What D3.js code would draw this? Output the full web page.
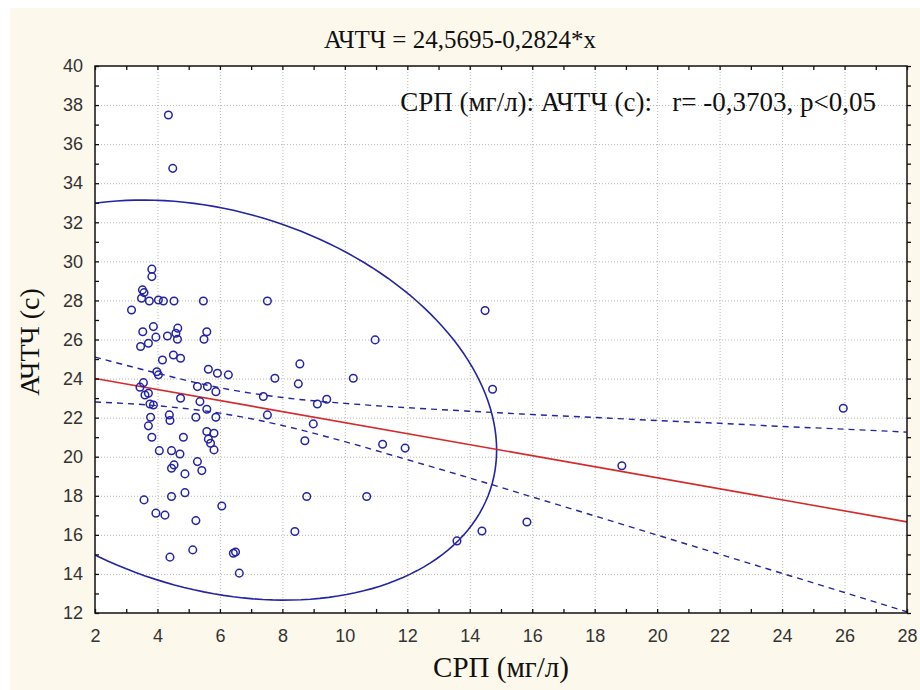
<!DOCTYPE html>
<html>
<head>
<meta charset="utf-8">
<script src="https://cdn.jsdelivr.net/npm/d3@7/dist/d3.min.js"></script>
<style>
  html, body { margin: 0; padding: 0; background: #ffffff; }
  svg { display: block; }
  text { white-space: pre; }
</style>
</head>
<body>
<svg id="chart" width="920" height="690"></svg>
<script>
// СРП (мг/л) per patient
const crpValues = [
  4.35, 4.49, 3.82, 3.82, 3.52, 3.57, 3.49, 3.74, 4.03, 4.19, 4.53, 5.47, 3.17, 3.87, 3.53, 4.65, 5.58, 4.59, 3.95, 4.32,
  3.71, 4.64, 5.49, 3.46, 4.16, 4.51, 4.74, 3.98, 4.03, 5.63, 5.92, 6.27, 3.55, 3.44, 3.60, 3.71, 5.28, 5.60, 5.87, 4.74,
  3.76, 3.87, 5.36, 5.58, 3.78, 4.38, 4.40, 5.23, 5.87, 3.71, 3.82, 4.83, 5.58, 5.81, 5.63, 5.70, 5.81, 4.06, 4.45, 4.72,
  5.28, 5.42, 4.53, 4.45, 4.88, 4.88, 4.45, 3.57, 6.06, 3.95, 4.24, 5.23, 5.13, 4.40, 6.43, 6.50, 6.62, 7.52, 10.97, 8.56,
  7.76, 8.51, 10.27, 7.39, 9.12, 9.42, 7.52, 8.99, 8.72, 8.78, 10.70, 8.40, 14.49, 14.73, 11.21, 11.93, 13.59, 14.39, 15.83, 18.87,
  25.96
];
// АЧТЧ (с) per patient, same order
const aptValues = [
  37.49, 34.76, 29.60, 29.22, 28.54, 28.40, 28.11, 27.97, 28.02, 27.97, 27.97, 27.97, 27.51, 26.66, 26.40, 26.58, 26.40, 26.32, 26.12, 26.18,
  25.81, 26.01, 26.01, 25.64, 24.95, 25.21, 25.04, 24.35, 24.19, 24.48, 24.27, 24.19, 23.79, 23.56, 23.16, 23.25, 23.59, 23.59, 23.33, 22.99,
  22.70, 22.65, 22.82, 22.43, 22.02, 22.14, 21.85, 22.02, 22.02, 21.58, 21.00, 21.00, 21.29, 21.20, 20.90, 20.69, 20.35, 20.31, 20.31, 20.14,
  19.75, 19.29, 19.58, 19.41, 19.12, 18.16, 17.96, 17.79, 17.48, 17.11, 17.01, 16.73, 15.23, 14.86, 15.06, 15.12, 14.04, 27.97, 25.98, 24.75,
  24.02, 23.73, 24.02, 23.08, 22.70, 22.94, 22.14, 21.68, 20.82, 17.96, 17.96, 16.17, 27.48, 23.45, 20.64, 20.44, 15.69, 16.20, 16.66, 19.54,
  22.48
];

// Regression line АЧТЧ = 24,5695 - 0,2824*x
const intercept = 24.5695;
const slope = -0.2824;

// 95% confidence band of the regression
const bandX     = [2, 4, 6, 8, 10, 12, 14, 16, 18, 20, 22, 24, 26, 28];
const bandUpper = [25.10, 24.27, 23.53, 23.03, 22.73, 22.51, 22.33, 22.16, 22.01, 21.85, 21.71, 21.55, 21.41, 21.26];
const bandLower = [22.80, 22.61, 22.23, 21.60, 20.77, 19.85, 18.91, 17.94, 16.97, 15.99, 15.01, 14.03, 13.05, 12.06];

// 95% data ellipse: centre, half-extents along each axis, correlation
const ellipseCentre = [5.8, 22.9];
const ellipseHalf = [9.06, 10.24];
const ellipseRho = -0.25;

const xTicks = [2, 4, 6, 8, 10, 12, 14, 16, 18, 20, 22, 24, 26, 28];
const yTicks = [12, 14, 16, 18, 20, 22, 24, 26, 28, 30, 32, 34, 36, 38, 40];

const titleText = "АЧТЧ = 24,5695-0,2824*x";
const statText = "СРП (мг/л): АЧТЧ (с):   r= -0,3703, p<0,05";
const xTitle = "СРП (мг/л)";
const yTitle = "АЧТЧ (с)";

const W = 920, H = 690;
const plot = { left: 95, right: 907, top: 66, bottom: 613 };
const blue = "#2424a4";
const red = "#d62a2a";

const svg = d3.select("#chart");

svg.append("rect").attr("x", 0).attr("y", 0).attr("width", W).attr("height", H).attr("fill", "#ffffff");
svg.append("rect").attr("x", 10).attr("y", 8).attr("width", W - 10).attr("height", H - 8).attr("fill", "#fcf8eb");
svg.append("rect")
  .attr("x", plot.left).attr("y", plot.top)
  .attr("width", plot.right - plot.left).attr("height", plot.bottom - plot.top)
  .attr("fill", "#ffffff");

const x = d3.scaleLinear().domain([2, 28]).range([plot.left, plot.right]);
const y = d3.scaleLinear().domain([12, 40]).range([plot.bottom, plot.top]);

// dotted grid at the major ticks
const grid = svg.append("g").attr("stroke", "#b8b8b0").attr("stroke-width", 1).attr("stroke-dasharray", "1,2");
grid.selectAll("line.gx").data(xTicks.slice(1, -1)).join("line")
  .attr("x1", d => x(d) + 0.5).attr("x2", d => x(d) + 0.5)
  .attr("y1", plot.top).attr("y2", plot.bottom);
grid.selectAll("line.gy").data(yTicks.slice(1, -1)).join("line")
  .attr("y1", d => y(d) + 0.5).attr("y2", d => y(d) + 0.5)
  .attr("x1", plot.left).attr("x2", plot.right);

// clipped drawing layer
svg.append("clipPath").attr("id", "plotClip").append("rect")
  .attr("x", plot.left).attr("y", plot.top)
  .attr("width", plot.right - plot.left).attr("height", plot.bottom - plot.top);
const layer = svg.append("g").attr("clip-path", "url(#plotClip)");

// ellipse outline
const ellPts = d3.range(0, 361, 2).map(a => {
  const t = a * Math.PI / 180;
  const ex = ellipseCentre[0] + ellipseHalf[0] * Math.cos(t);
  const ey = ellipseCentre[1] + ellipseHalf[1] * (ellipseRho * Math.cos(t) + Math.sqrt(1 - ellipseRho * ellipseRho) * Math.sin(t));
  return [ex, ey];
});
layer.append("path")
  .attr("d", d3.line().x(d => x(d[0])).y(d => y(d[1])).curve(d3.curveLinearClosed)(ellPts))
  .attr("fill", "none").attr("stroke", blue).attr("stroke-width", 1.6);

// confidence band
const bandLine = d3.line().x(d => x(d[0])).y(d => y(d[1])).curve(d3.curveMonotoneX);
[bandUpper, bandLower].forEach(arr => {
  layer.append("path")
    .attr("d", bandLine(bandX.map((v, i) => [v, arr[i]])))
    .attr("fill", "none").attr("stroke", blue).attr("stroke-width", 1.4)
    .attr("stroke-dasharray", "6,5");
});

// regression line
layer.append("line")
  .attr("x1", x(2)).attr("y1", y(intercept + slope * 2))
  .attr("x2", x(28)).attr("y2", y(intercept + slope * 28))
  .attr("stroke", red).attr("stroke-width", 1.6);

// points
layer.selectAll("circle.pt").data(crpValues.map((v, i) => [v, aptValues[i]])).join("circle")
  .attr("cx", d => x(d[0])).attr("cy", d => y(d[1])).attr("r", 3.8)
  .attr("fill", "none").attr("stroke", blue).attr("stroke-width", 1.5);

// frame
svg.append("rect")
  .attr("x", plot.left).attr("y", plot.top)
  .attr("width", plot.right - plot.left).attr("height", plot.bottom - plot.top)
  .attr("fill", "none").attr("stroke", "#111").attr("stroke-width", 1.5);

// axes with major + minor ticks
const minorX = d3.range(3, 28, 2);
const minorY = d3.range(13, 40, 2);
const tickFont = "Arial, 'Liberation Sans', sans-serif";

const bottomAxis = svg.append("g").attr("transform", `translate(0,${plot.bottom})`)
  .call(d3.axisBottom(x).tickValues(xTicks).tickSize(-4).tickPadding(16).tickFormat(d3.format("d")));
const bottomMinor = svg.append("g").attr("transform", `translate(0,${plot.bottom})`)
  .call(d3.axisBottom(x).tickValues(minorX).tickSize(-4).tickFormat(""));
const topAxis = svg.append("g").attr("transform", `translate(0,${plot.top})`)
  .call(d3.axisTop(x).tickValues(xTicks.concat(minorX)).tickSize(-4).tickFormat(""));
const leftAxis = svg.append("g").attr("transform", `translate(${plot.left},0)`)
  .call(d3.axisLeft(y).tickValues(yTicks).tickSize(-4).tickPadding(12).tickFormat(d3.format("d")));
const leftMinor = svg.append("g").attr("transform", `translate(${plot.left},0)`)
  .call(d3.axisLeft(y).tickValues(minorY).tickSize(-4).tickFormat(""));
const rightAxis = svg.append("g").attr("transform", `translate(${plot.right},0)`)
  .call(d3.axisRight(y).tickValues(yTicks.concat(minorY)).tickSize(4).tickFormat(""));

[bottomAxis, bottomMinor, topAxis, leftAxis, leftMinor, rightAxis].forEach(g => {
  g.select(".domain").remove();
  g.selectAll(".tick line").attr("stroke", "#111").attr("stroke-width", 1.3);
  g.selectAll(".tick text").attr("fill", "#333").attr("font-family", tickFont).attr("font-size", 18);
});

// titles
const serif = "'Liberation Serif', 'Times New Roman', serif";
svg.append("text").attr("x", 460).attr("y", 48).attr("text-anchor", "middle")
  .attr("font-family", serif).attr("font-size", 25).attr("fill", "#111").text(titleText);
svg.append("text").attr("x", 876).attr("y", 111).attr("text-anchor", "end")
  .attr("font-family", serif).attr("font-size", 27).attr("fill", "#111").text(statText);
svg.append("text").attr("x", 501).attr("y", 677).attr("text-anchor", "middle")
  .attr("font-family", serif).attr("font-size", 29).attr("fill", "#111").text(xTitle);
svg.append("text").attr("transform", "translate(39,342) rotate(-90)").attr("text-anchor", "middle")
  .attr("font-family", serif).attr("font-size", 28).attr("fill", "#111").text(yTitle);
</script>
</body>
</html>
